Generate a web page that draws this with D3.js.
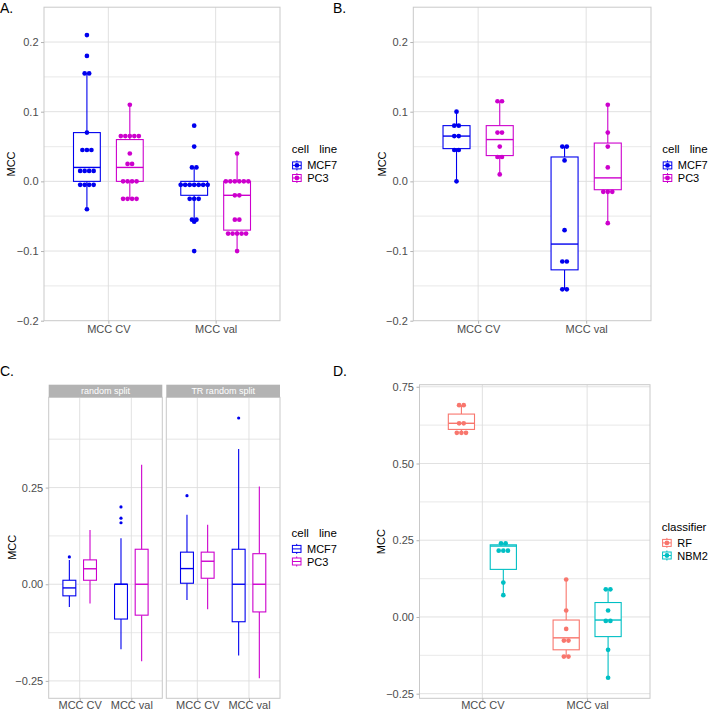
<!DOCTYPE html>
<html><head><meta charset="utf-8">
<script src="https://cdn.jsdelivr.net/npm/d3@7"></script>
<style>body{margin:0;background:#fff} text{font-family:"Liberation Sans",Arial,Helvetica,sans-serif}</style>
</head><body><svg id="c" width="709" height="710"></svg>
<script>
// ---------- data ----------
const categories = ["MCC CV", "MCC val"];
const cellLines = ["MCF7", "PC3"];
const classifiers = ["RF", "NBM2"];
const facets = ["random split", "TR random split"];
const cellColors = ["#0000EE", "#CD00CD"];
const clfColors = ["#F8766D", "#00BFC4"];

const ticksAB = [-0.2, -0.1, 0.0, 0.1, 0.2];
const minorAB = [-0.15, -0.05, 0.05, 0.15];
const ticksC = [-0.25, 0.0, 0.25, 0.5];
const minorC = [-0.125, 0.125, 0.375];
const ticksD = [-0.25, 0.0, 0.25, 0.5, 0.75];
const minorD = [-0.125, 0.125, 0.375, 0.625];

// Panel A points
const aMCF7_CV = [0.21, 0.18, 0.155, 0.155, 0.07, 0.045, 0.045, 0.045, 0.015, 0.015, 0.015, 0.015, -0.005, -0.005, -0.005, -0.005, -0.04];
const aPC3_CV = [0.11, 0.065, 0.065, 0.065, 0.065, 0.065, 0.04, 0.025, 0.025, 0, 0, 0, 0, -0.025, -0.025, -0.025, -0.025];
const aMCF7_val = [0.08, 0.05, 0.02, 0.02, -0.005, -0.005, -0.005, -0.005, -0.005, -0.005, -0.005, -0.025, -0.025, -0.025, -0.055, -0.055, -0.058, -0.1];
const aPC3_val = [0.04, 0, 0, 0, 0, 0, 0, -0.02, -0.02, -0.055, -0.055, -0.075, -0.075, -0.075, -0.075, -0.075, -0.1];
// Box stats: [lower whisker, Q1, median, Q3, upper whisker]
const aMCF7_CV_box = [-0.04, 0.0, 0.02, 0.07, 0.155];
const aPC3_CV_box = [-0.025, 0.0, 0.02, 0.06, 0.11];
const aMCF7_val_box = [-0.058, -0.02, -0.005, 0.0, 0.02];
const aPC3_val_box = [-0.1, -0.07, -0.02, 0.0, 0.04];

// Panel B points
const bMCF7_CV = [0.1, 0.08, 0.08, 0.065, 0.065, 0.045, 0.045, 0.0];
const bPC3_CV = [0.115, 0.115, 0.07, 0.07, 0.05, 0.035, 0.035, 0.01];
const bMCF7_val = [0.05, 0.05, 0.03, -0.07, -0.115, -0.115, -0.155, -0.155];
const bPC3_val = [0.11, 0.07, 0.05, 0.02, -0.015, -0.015, -0.015, -0.06];
const bMCF7_CV_box = [0.0, 0.047, 0.065, 0.08, 0.1];
const bPC3_CV_box = [0.01, 0.037, 0.06, 0.08, 0.115];
const bMCF7_val_box = [-0.155, -0.127, -0.09, 0.035, 0.05];
const bPC3_val_box = [-0.06, -0.012, 0.005, 0.055, 0.11];

// Panel C box stats (random split / TR random split)
const cRS_MCF7_CV_box = [-0.059, -0.03, -0.0095, 0.0103, 0.063];
const cRS_PC3_CV_box = [-0.05, 0.0103, 0.04, 0.063, 0.14];
const cRS_MCF7_val_box = [-0.168, -0.09, 0.0, 0.0, 0.119];
const cRS_PC3_val_box = [-0.199, -0.08, 0.0, 0.0905, 0.309];
const cTR_MCF7_CV_box = [-0.0405, 0.0026, 0.0405, 0.083, 0.18];
const cTR_PC3_CV_box = [-0.065, 0.0155, 0.0595, 0.083, 0.154];
const cTR_MCF7_val_box = [-0.184, -0.097, 0.0, 0.0905, 0.35];
const cTR_PC3_val_box = [-0.243, -0.0716, 0.0, 0.079, 0.2526];
const cRS_MCF7_CV_out = [0.0707];
const cRS_MCF7_val_out = [0.2, 0.171, 0.159];
const cTR_MCF7_CV_out = [0.229];
const cTR_MCF7_val_out = [0.43];

// Panel D points
const dRF_CV = [0.69, 0.69, 0.631, 0.631, 0.60, 0.60, 0.60];
const dNBM2_CV = [0.24, 0.24, 0.216, 0.216, 0.216, 0.112, 0.071];
const dRF_val = [0.122, 0.021, -0.039, -0.077, -0.077, -0.129, -0.129];
const dNBM2_val = [0.09, 0.09, 0.021, -0.013, -0.013, -0.107, -0.198];
const dRF_CV_box = [0.60, 0.611, 0.631, 0.661, 0.69];
const dNBM2_CV_box = [0.071, 0.155, 0.231, 0.235, 0.24];
const dRF_val_box = [-0.129, -0.107, -0.068, -0.01, 0.122];
const dNBM2_val_box = [-0.198, -0.064, -0.01, 0.047, 0.09];

// ---------- drawing ----------
const svg = d3.select("#c");
const TXT = "#4D4D4D";

function fmtTick(d, dec) {
  const s = d3.format("." + dec + "f")(Math.abs(d));
  return (d < 0 ? "\u2212" : "") + s;
}

function frame(L, R, T, B, y, majors, minors, dec, showY, xPad) {
  const g = svg.append("g");
  const x = d3.scalePoint().domain(categories).range([L, R]).padding(0.6);
  g.append("rect").attr("x", L).attr("y", T).attr("width", R - L).attr("height", B - T).attr("fill", "#fff");
  g.selectAll(null).data(minors.filter(v => y(v) > T && y(v) < B)).join("line")
    .attr("x1", L).attr("x2", R).attr("y1", d => y(d)).attr("y2", d => y(d))
    .attr("stroke", "#EDEDED").attr("stroke-width", 1.3);
  g.selectAll(null).data(majors.filter(v => y(v) > T && y(v) < B)).join("line")
    .attr("x1", L).attr("x2", R).attr("y1", d => y(d)).attr("y2", d => y(d))
    .attr("stroke", "#DEDEDE").attr("stroke-width", 0.9);
  g.selectAll(null).data(categories).join("line")
    .attr("x1", d => x(d)).attr("x2", d => x(d)).attr("y1", T).attr("y2", B)
    .attr("stroke", "#DEDEDE").attr("stroke-width", 0.9);
  g.append("rect").attr("x", L).attr("y", T).attr("width", R - L).attr("height", B - T)
    .attr("fill", "none").attr("stroke", "#C9C9C9").attr("stroke-width", 1);
  const ax = g.append("g").attr("transform", `translate(0,${B})`)
    .call(d3.axisBottom(x).tickSize(3).tickPadding(xPad));
  ax.select(".domain").remove();
  ax.selectAll("line").attr("stroke", "#B3B3B3");
  ax.selectAll("text").attr("fill", TXT).attr("font-size", 11).attr("font-family", null);
  if (showY) {
    const ay = g.append("g").attr("transform", `translate(${L},0)`)
      .call(d3.axisLeft(y).tickValues(majors.filter(v => y(v) >= T - 0.5 && y(v) <= B + 0.5)).tickSize(3).tickPadding(2.5).tickFormat(d => fmtTick(d, dec)));
    ay.select(".domain").remove();
    ay.selectAll("line").attr("stroke", "#B3B3B3");
    ay.selectAll("text").attr("fill", TXT).attr("font-size", 11).attr("font-family", null);
  }
  return { g, x };
}

function drawBox(g, y, cx, w, s, color) {
  const [lo, q1, med, q3, hi] = s;
  g.append("line").attr("x1", cx).attr("x2", cx).attr("y1", y(hi)).attr("y2", y(q3)).attr("stroke", color).attr("stroke-width", 1.1);
  g.append("line").attr("x1", cx).attr("x2", cx).attr("y1", y(q1)).attr("y2", y(lo)).attr("stroke", color).attr("stroke-width", 1.1);
  g.append("rect").attr("x", cx - w / 2).attr("y", y(q3)).attr("width", w).attr("height", Math.max(0, y(q1) - y(q3)))
    .attr("fill", "#fff").attr("stroke", color).attr("stroke-width", 1.1);
  g.append("line").attr("x1", cx - w / 2).attr("x2", cx + w / 2).attr("y1", y(med)).attr("y2", y(med)).attr("stroke", color).attr("stroke-width", 1.4);
}

function drawDots(g, y, cx, vals, color, r, sp) {
  d3.groups(vals, v => v).forEach(([v, arr]) => {
    g.selectAll(null).data(arr).join("circle")
      .attr("cx", (d, i) => cx + (i - (arr.length - 1) / 2) * sp)
      .attr("cy", y(v)).attr("r", r).attr("fill", color);
  });
}

function yTitle(cx, cy) {
  svg.append("text").attr("transform", `translate(${cx + 4},${cy}) rotate(-90)`)
    .attr("text-anchor", "middle").attr("font-size", 11).attr("fill", "#000").text("MCC");
}

function panelLabel(x, y, t) {
  svg.append("text").attr("x", x).attr("y", y).attr("font-size", 14).attr("fill", "#000").text(t);
}

function legend(x0, yT, title, labels, colors, withDot) {
  svg.append("text").attr("x", x0).attr("y", yT).attr("font-size", 11.5).attr("word-spacing", 7).attr("fill", "#000").text(title);
  labels.forEach((l, i) => {
    const cy = yT + 12.4 + i * 12.6, cx = x0 + 5.2, c = colors[i];
    svg.append("line").attr("x1", cx).attr("x2", cx).attr("y1", cy - 5).attr("y2", cy + 5).attr("stroke", c).attr("stroke-width", 1);
    svg.append("rect").attr("x", cx - 4.3).attr("y", cy - 3.5).attr("width", 8.6).attr("height", 7)
      .attr("fill", "#fff").attr("stroke", c).attr("stroke-width", 1);
    svg.append("line").attr("x1", cx - 4.3).attr("x2", cx + 4.3).attr("y1", cy).attr("y2", cy).attr("stroke", c).attr("stroke-width", 1);
    if (withDot) svg.append("circle").attr("cx", cx).attr("cy", cy).attr("r", 2.4).attr("fill", c);
    svg.append("text").attr("x", x0 + 15.5).attr("y", cy + 4).attr("font-size", 11).attr("fill", "#000").text(l);
  });
}

// ---- Panels A & B ----
const yAB = d3.scaleLinear().domain([-0.2, 0.25]).range([320.7, 7.2]);
function panelAB(L, R, sets, boxes) {
  const { g, x } = frame(L, R, yAB(0.25), yAB(-0.2), yAB, ticksAB, minorAB, 1, true, 2);
  const step = x.step();
  sets.forEach((pts, k) => {
    const ci = Math.floor(k / 2), gi = k % 2;
    const cx = x(categories[ci]) + (gi - 0.5) * 0.4 * step;
    drawBox(g, yAB, cx, 0.25 * step, boxes[k], cellColors[gi]);
  });
  sets.forEach((pts, k) => {
    const ci = Math.floor(k / 2), gi = k % 2;
    const cx = x(categories[ci]) + (gi - 0.5) * 0.4 * step;
    drawDots(g, yAB, cx, pts, cellColors[gi], 2.35, 4.5);
  });
}
panelAB(44, 280, [aMCF7_CV, aPC3_CV, aMCF7_val, aPC3_val], [aMCF7_CV_box, aPC3_CV_box, aMCF7_val_box, aPC3_val_box]);
panelAB(413.3, 651, [bMCF7_CV, bPC3_CV, bMCF7_val, bPC3_val], [bMCF7_CV_box, bPC3_CV_box, bMCF7_val_box, bPC3_val_box]);
yTitle(10.5, 164);
yTitle(381.5, 164);
panelLabel(0, 13, "A.");
panelLabel(333, 13, "B.");
legend(291.7, 153, "cell line", cellLines, cellColors, true);
legend(662.3, 153, "cell line", cellLines, cellColors, true);

// ---- Panel C ----
const yC = d3.scaleLinear().domain([-0.295, 0.4835]).range([698.3, 397.3]);
const cFacetBoxes = [
  [cRS_MCF7_CV_box, cRS_PC3_CV_box, cRS_MCF7_val_box, cRS_PC3_val_box],
  [cTR_MCF7_CV_box, cTR_PC3_CV_box, cTR_MCF7_val_box, cTR_PC3_val_box]
];
const cFacetOut = [
  [cRS_MCF7_CV_out, [], cRS_MCF7_val_out, []],
  [cTR_MCF7_CV_out, [], cTR_MCF7_val_out, []]
];
const cFacetX = [[48.7, 162.3], [166.3, 280]];
facets.forEach((f, fi) => {
  const [L, R] = cFacetX[fi];
  const { g, x } = frame(L, R, 397.3, 698.3, yC, ticksC, minorC, 2, fi === 0, -0.5);
  svg.append("rect").attr("x", L).attr("y", 384.7).attr("width", R - L).attr("height", 12.6).attr("fill", "#B3B3B3");
  svg.append("text").attr("x", (L + R) / 2).attr("y", 394.2).attr("text-anchor", "middle")
    .attr("font-size", 9).attr("fill", "#fff").text(f);
  const step = x.step();
  cFacetBoxes[fi].forEach((b, k) => {
    const ci = Math.floor(k / 2), gi = k % 2;
    const cx = x(categories[ci]) + (gi - 0.5) * 0.4 * step;
    drawBox(g, yC, cx, 0.25 * step, b, cellColors[gi]);
    cFacetOut[fi][k].forEach(v => g.append("circle").attr("cx", cx).attr("cy", yC(v)).attr("r", 1.6).attr("fill", cellColors[gi]));
  });
});
yTitle(11.5, 547.3);
panelLabel(0, 376, "C.");
legend(291.5, 536.5, "cell line", cellLines, cellColors, false);

// ---- Panel D ----
const yD = d3.scaleLinear().domain([-0.265, 0.7567]).range([698.3, 384.7]);
(function () {
  const { g, x } = frame(419.5, 650, 384.7, 698.3, yD, ticksD, minorD, 2, true, -0.5);
  const step = x.step();
  const sets = [dRF_CV, dNBM2_CV, dRF_val, dNBM2_val];
  const boxes = [dRF_CV_box, dNBM2_CV_box, dRF_val_box, dNBM2_val_box];
  boxes.forEach((b, k) => {
    const ci = Math.floor(k / 2), gi = k % 2;
    const cx = x(categories[ci]) + (gi - 0.5) * 0.4 * step;
    drawBox(g, yD, cx, 0.25 * step, b, clfColors[gi]);
  });
  sets.forEach((pts, k) => {
    const ci = Math.floor(k / 2), gi = k % 2;
    const cx = x(categories[ci]) + (gi - 0.5) * 0.4 * step;
    drawDots(g, yD, cx, pts, clfColors[gi], 2.35, 4.6);
  });
})();
yTitle(381.3, 541.7);
panelLabel(333, 376, "D.");
legend(661.7, 530.5, "classifier", classifiers, clfColors, true);
</script></body></html>
